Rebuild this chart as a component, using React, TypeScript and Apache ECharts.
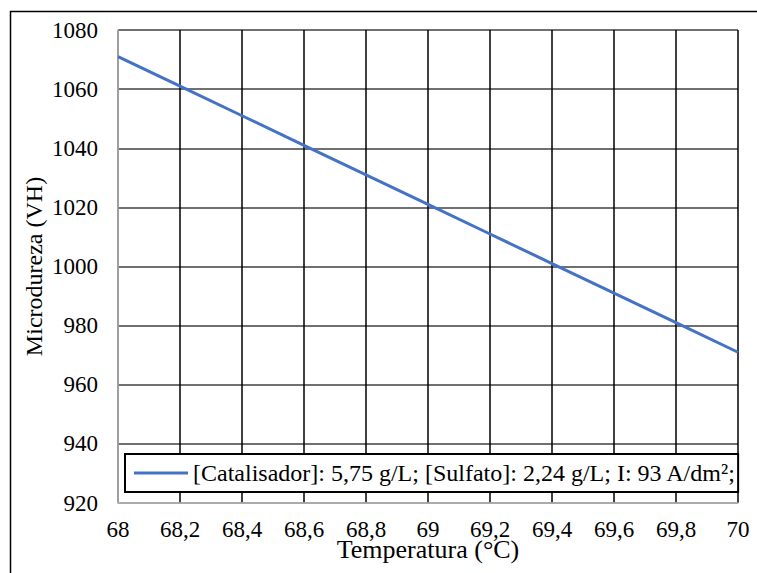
import React, { useEffect, useRef } from "react";
import * as echarts from "echarts";

const temperatures = [68, 68.2, 68.4, 68.6, 68.8, 69, 69.2, 69.4, 69.6, 69.8, 70];
const hardness = [1071, 1061, 1051, 1041, 1031, 1021, 1011, 1001, 991, 981, 971];
const seriesName = "[Catalisador]: 5,75 g/L; [Sulfato]: 2,24 g/L; I: 93 A/dm²;";
const xTitle = "Temperatura (°C)";
const yTitle = "Microdureza (VH)";

const FONT = "'Liberation Serif', 'Times New Roman', serif";

export default function App() {
  const ref = useRef<HTMLDivElement>(null);
  useEffect(() => {
    if (!ref.current) return;
    const chart = echarts.init(ref.current, undefined, { renderer: "svg" });
    chart.setOption({
      animation: false,
      backgroundColor: "#fff",
      textStyle: { fontFamily: FONT },
      graphic: [
        {
          type: "rect",
          shape: { x: 10.5, y: 11.5, width: 800, height: 700 },
          style: { fill: "none", stroke: "#000", lineWidth: 1.5 },
          silent: true,
        },
      ],
      grid: {
        left: 118,
        top: 30,
        right: 19,
        bottom: 70,
        containLabel: false,
        outerBoundsMode: "none",
      },
      legend: {
        left: 125,
        top: 454,
        data: [seriesName],
        icon: "rect",
        itemWidth: 54,
        itemHeight: 3,
        itemGap: 0,
        padding: [7, 2, 7, 9],
        borderColor: "#000",
        borderWidth: 2,
        backgroundColor: "#fff",
        textStyle: { fontFamily: FONT, fontSize: 24, color: "#000" },
      },
      xAxis: {
        type: "value",
        min: 68,
        max: 70,
        interval: 0.2,
        name: xTitle,
        nameLocation: "middle",
        nameGap: 33,
        nameMoveOverlap: false,
        nameTextStyle: { fontFamily: FONT, fontSize: 26, color: "#000" },
        axisLine: { show: true, lineStyle: { color: "#bfbfbf", width: 1.5 } },
        axisTick: { show: false },
        axisLabel: {
          margin: 15,
          fontFamily: FONT,
          fontSize: 23,
          color: "#000",
          formatter: (v: number) => String(Math.round(v * 10) / 10).replace(".", ","),
        },
        splitLine: { show: true, lineStyle: { color: "#000", width: 1.5 } },
      },
      yAxis: {
        type: "value",
        min: 920,
        max: 1080,
        interval: 20,
        name: yTitle,
        nameLocation: "middle",
        nameGap: 72,
        nameMoveOverlap: false,
        nameTextStyle: { fontFamily: FONT, fontSize: 24, color: "#000" },
        axisLine: { show: true, lineStyle: { color: "#bfbfbf", width: 1.5 } },
        axisTick: { show: false },
        axisLabel: {
          margin: 20,
          fontFamily: FONT,
          fontSize: 23,
          color: "#000",
          formatter: (v: number) => String(Math.round(v)),
        },
        splitLine: { show: true, lineStyle: { color: "#404040", width: 1.5 } },
      },
      series: [
        {
          name: seriesName,
          type: "line",
          data: temperatures.map((t, i) => [t, hardness[i]]),
          showSymbol: false,
          lineStyle: { color: "#4472c4", width: 3 },
          itemStyle: { color: "#4472c4" },
          z: 3,
        },
      ],
    });
    return () => chart.dispose();
  }, []);
  return (
    <div
      ref={ref}
      style={{ position: "absolute", left: 0, top: 0, width: 757, height: 573 }}
    />
  );
}
